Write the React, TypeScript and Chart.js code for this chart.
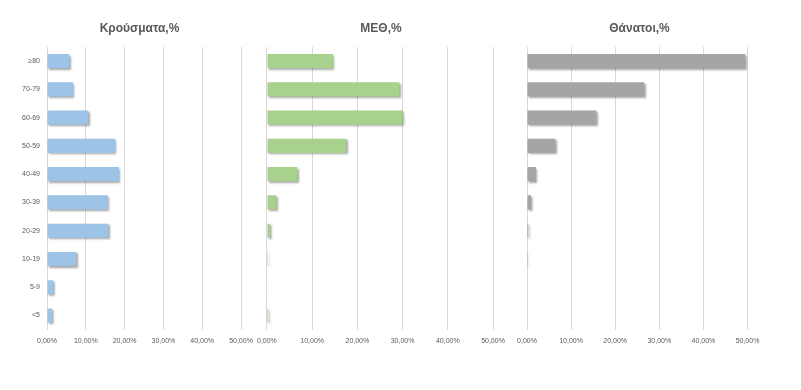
import React, { useEffect, useRef } from "react";
import { Chart, registerables } from "chart.js";
Chart.register(...registerables);

const categories = ["≥80", "70-79", "60-69", "50-59", "40-49", "30-39", "20-29", "10-19", "5-9", "<5"];
const casesPct = [5.7, 6.7, 10.6, 17.5, 18.5, 15.7, 15.8, 7.5, 1.6, 1.3];
const icuPct = [14.6, 29.3, 30.0, 17.5, 6.7, 2.1, 0.7, 0.2, 0.1, 0.3];
const deathsPct = [49.5, 26.6, 15.7, 6.4, 2.0, 0.9, 0.3, 0.05, 0, 0];
const xTicks = [0, 10, 20, 30, 40, 50];
const titles = ["Κρούσματα,%", "ΜΕΘ,%", "Θάνατοι,%"];

const FONT = "'Liberation Sans', Arial, sans-serif";

const shadowPlugin = {
  id: "barShadow",
  beforeDatasetDraw(chart: any) {
    const ctx = chart.ctx;
    ctx.save();
    ctx.shadowColor = "rgba(0,0,0,0.35)";
    ctx.shadowOffsetX = 1.5;
    ctx.shadowOffsetY = 1.5;
    ctx.shadowBlur = 2;
  },
  afterDatasetDraw(chart: any) {
    chart.ctx.restore();
  },
};

type PanelProps = {
  left: number;
  width: number;
  padLeft: number;
  padRight: number;
  showY: boolean;
  yWidth: number;
  data: number[];
  color: string;
};

function Panel(p: PanelProps) {
  const ref = useRef<HTMLCanvasElement>(null);
  useEffect(() => {
    const chart = new Chart(ref.current!, {
      type: "bar",
      data: {
        labels: categories,
        datasets: [
          {
            data: p.data,
            backgroundColor: p.color,
            borderWidth: 0,
            barPercentage: 0.5,
            categoryPercentage: 1,
          },
        ],
      },
      options: {
        indexAxis: "y",
        responsive: false,
        animation: false,
        layout: { padding: { top: 47, bottom: 38, left: p.padLeft, right: p.padRight } },
        plugins: { legend: { display: false }, tooltip: { enabled: false }, title: { display: false } },
        scales: {
          x: {
            min: 0,
            max: 50,
            afterBuildTicks(scale: any) {
              scale.ticks = xTicks.map((v) => ({ value: v }));
            },
            grid: { color: "#d9d9d9", lineWidth: 1, drawTicks: false },
            border: { display: false },
            ticks: {
              font: { family: FONT, size: 7 },
              color: "#595959",
              padding: 7,
              maxRotation: 0,
              callback: (v: any) => Number(v).toFixed(2).replace(".", ",") + "%",
            },
          },
          y: {
            display: p.showY,
            afterFit(scale: any) {
              if (p.showY) scale.width = p.yWidth;
            },
            grid: { display: false, drawTicks: false },
            border: { display: false },
            ticks: { font: { family: FONT, size: 7 }, color: "#595959", padding: 7 },
          },
        },
      },
      plugins: [shadowPlugin],
    });
    return () => chart.destroy();
  }, []);
  return (
    <canvas
      ref={ref}
      width={p.width}
      height={390}
      style={{ position: "absolute", left: p.left, top: 0, width: p.width, height: 390 }}
    />
  );
}

const titleCenters = [139.5, 381, 639.5];

export default function App() {
  return (
    <div style={{ position: "fixed", left: 0, top: 0, width: 801, height: 390, background: "#fff", overflow: "hidden" }}>
      <Panel left={0} width={262} padLeft={0} padRight={21} showY={true} yWidth={47} data={casesPct} color="#9dc3e6" />
      <Panel left={250} width={262} padLeft={15.5} padRight={19} showY={false} yWidth={0} data={icuPct} color="#a9d18e" />
      <Panel left={510} width={260} padLeft={17} padRight={22.5} showY={false} yWidth={0} data={deathsPct} color="#a5a5a5" />
      {titles.map((t, i) => (
        <div
          key={t}
          style={{
            position: "absolute",
            left: titleCenters[i] - 80,
            width: 160,
            top: 21,
            textAlign: "center",
            fontFamily: FONT,
            fontWeight: "bold",
            fontSize: 12,
            color: "#595959",
          }}
        >
          {t}
        </div>
      ))}
    </div>
  );
}
